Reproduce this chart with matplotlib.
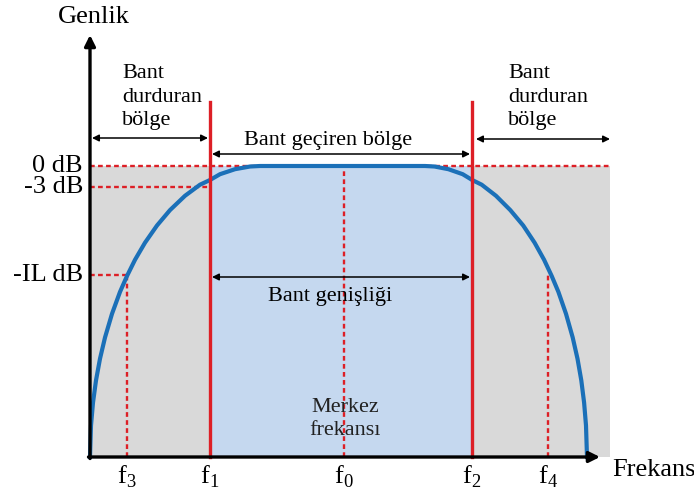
import matplotlib
matplotlib.use("Agg")
import matplotlib.pyplot as plt
from matplotlib.patches import Rectangle

plt.rcParams['font.family'] = ['Liberation Serif', 'DejaVu Serif']
plt.rcParams['mathtext.fontset'] = 'custom'
plt.rcParams['mathtext.rm'] = 'Liberation Serif'

# ---- data (frequency axis units / amplitude units, origin at axes corner) ----
freq_names = ['f$_3$', 'f$_1$', 'f$_0$', 'f$_2$', 'f$_4$']
freq_pos = [37, 120, 254, 382, 458]          # f3, f1, f0, f2, f4
level_names = ['0 dB', '-3 dB', '-IL dB']
level_vals = [291, 270, 182]
stop_band_end = 520
x_axis_end = 510
y_axis_end = 422
red_top = 355

curve_x = [0, 1, 3, 6, 10, 15, 22, 30, 37, 45, 55, 67, 80, 95, 110, 120, 130, 145, 160, 170,
           335, 344.5, 358.4, 372.7, 382.2, 391.7, 406.0, 420.3, 433.2, 444.6, 454.1,
           461.7, 468.4, 476.0, 482.7, 487.5, 491.3, 494.1, 496.0, 497]
curve_y = [0, 31.5, 54.4, 76.6, 98.3, 119.5, 143.2, 165.1, 181, 197.2, 214.3, 231.5, 246.9,
           261.2, 272.3, 277, 282.8, 287.8, 290.5, 291,
           291, 290.5, 287.8, 282.8, 277, 272.3, 261.2, 246.9, 231.5, 214.3, 197.2,
           181, 165.1, 143.2, 119.5, 98.3, 76.6, 54.4, 31.5, 0]

# ---- figure ----
fig = plt.figure(figsize=(6.94, 4.93), dpi=100)
ax = fig.add_axes([0, 0, 1, 1])
ax.set_xlim(-90, 604)
ax.set_ylim(-36, 457)
ax.axis('off')

f3, f1, f0, f2, f4 = freq_pos
l0, l3, lil = level_vals

red = '#dd1f26'
blue = '#1b70b8'

# shaded regions
ax.add_patch(Rectangle((0, 0), stop_band_end, l0, facecolor='#d9d9d9', edgecolor='none', zorder=1))
ax.add_patch(Rectangle((f1, 0), f2 - f1, l0, facecolor='#c5d8ef', edgecolor='none', zorder=2))

# dashed guides
dash = (0, (2.0, 1.4))
dlw = 1.7
ax.plot([0, stop_band_end], [l0, l0], color=red, lw=dlw, ls=dash, zorder=3)
ax.plot([0, f1], [l3, l3], color=red, lw=dlw, ls=dash, zorder=3)
ax.plot([0, f3], [lil, lil], color=red, lw=dlw, ls=dash, zorder=3)
ax.plot([f3, f3], [0, lil], color=red, lw=dlw, ls=dash, zorder=3)
ax.plot([f4, f4], [0, lil], color=red, lw=dlw, ls=dash, zorder=3)
ax.plot([f0, f0], [0, l0], color=red, lw=dlw, ls=dash, zorder=3)

# curve
ax.plot(curve_x, curve_y, color=blue, lw=3.0, zorder=5, solid_joinstyle='round')

# red cutoff lines
for f in (f1, f2):
    ax.plot([f, f], [0, red_top], color=red, lw=2.4, zorder=6)

# axes with arrows
ax.annotate('', xy=(0, y_axis_end), xytext=(0, -1.5),
            arrowprops=dict(arrowstyle='-|>', lw=2.4, color='black',
                            mutation_scale=16, shrinkA=0, shrinkB=0), zorder=7)
ax.annotate('', xy=(x_axis_end, 0), xytext=(-1.5, 0),
            arrowprops=dict(arrowstyle='-|>', lw=2.4, color='black',
                            mutation_scale=16, shrinkA=0, shrinkB=0), zorder=7)

# double arrows
def darrow(x0, x1, y):
    ax.annotate('', xy=(x1, y), xytext=(x0, y),
                arrowprops=dict(arrowstyle='<|-|>', lw=1.1, color='black',
                                mutation_scale=10, shrinkA=0, shrinkB=0), zorder=8)

darrow(2, 118, 319)
darrow(386, 520, 318)
darrow(122, 380, 303)
darrow(122, 380, 180)

# texts
big = 19
small = 16
ax.text(4, 440, 'Genlik', ha='center', va='center', fontsize=big)
ax.text(522, -13, 'Frekans', ha='left', va='center', fontsize=big)
for name, v in zip(level_names, level_vals):
    ax.text(-7, v, name, ha='right', va='center', fontsize=big)
for name, f in zip(freq_names, freq_pos):
    ax.text(f, -20, name, ha='center', va='center', fontsize=big)

ax.text(32, 360, 'Bant\ndurduran\nbölge', ha='left', va='center', fontsize=small, linespacing=1.3)
ax.text(418, 360, 'Bant\ndurduran\nbölge', ha='left', va='center', fontsize=small, linespacing=1.3)
ax.text(238, 316, 'Bant geçiren bölge', ha='center', va='center', fontsize=small)
ax.text(240, 160, 'Bant genişliği', ha='center', va='center', fontsize=small)
ax.text(255, 38, 'Merkez\nfrekansı', ha='center', va='center', fontsize=small,
        linespacing=1.3, color='#222222', zorder=9)

fig.savefig('out.png', dpi=100)
